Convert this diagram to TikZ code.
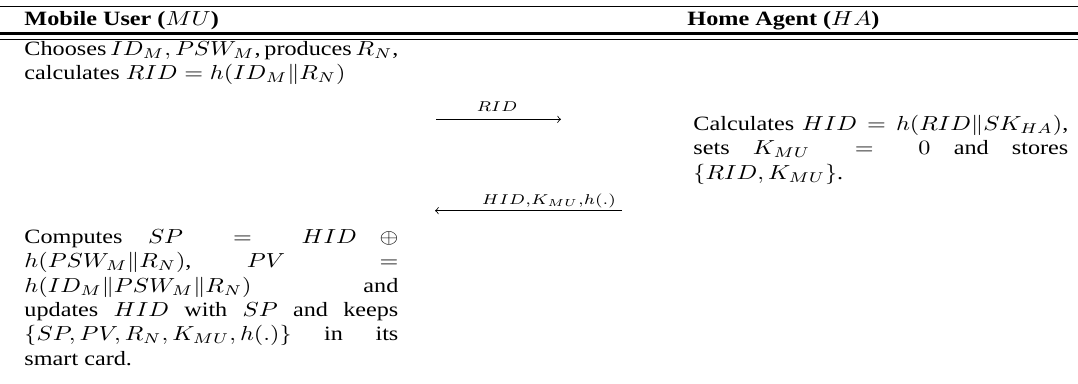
\documentclass[tikz,border=0pt]{standalone}
\usepackage{fontspec}
\setmainfont{Liberation Serif}
\tikzset{
  rulex/.style={line width=0.7pt},
  wide/.style={xscale=1.19, transform shape},
  para/.style={wide, anchor=base west, inner sep=0pt, align=justify,
    font=\fontsize{10}{12}\selectfont},
  head/.style={wide, anchor=base west, inner sep=0pt, font=\fontsize{10}{12}\selectfont\bfseries},
  msg/.style={line width=0.4pt},
  lab/.style={wide, anchor=base, inner sep=0pt, font=\fontsize{10}{12}\selectfont}
}
\begin{document}
\begin{tikzpicture}[x=0.492pt,y=-0.492pt]
\useasboundingbox (0,0) rectangle (1078,384);
% rules
\coordinate (r1a) at (0,6.7);   \coordinate (r1b) at (1078,6.7);
\coordinate (r2a) at (0,33.5);  \coordinate (r2b) at (1078,33.5);
\coordinate (r3a) at (0,39.5);  \coordinate (r3b) at (1078,39.5);
\draw[rulex] (r1a) -- (r1b);
\draw[rulex, line width=1pt] (r2a) -- (r2b);
\draw[rulex] (r3a) -- (r3b);
% headers
\node[head] (hmu) at (24,26) {Mobile User ($MU$)};
\node[head] (hha) at (687,26) {Home Agent ($HA$)};
% left column
\node[para, text width=154.6pt] (p1) at (24,55.5)
  {\hbox to\linewidth{Chooses\hss\ $ID_M, PSW_M$,\hss\ produces\hss\ $R_N$,}\par calculates $RID = h(ID_M\|R_N)$};
\node[para, text width=154.6pt] (p3) at (24,243.3)
  {Computes $SP = HID \oplus\penalty-10000 h(PSW_M\|R_N)$, $PV =\penalty-10000 h(ID_M\|PSW_M\|R_N)$ and\linebreak updates $HID$ with $SP$ and keeps\linebreak $\{SP, PV, R_N, K_{MU}, h(.)\}$ in its\linebreak smart card.};
% right column
\node[para, text width=155pt] (p2) at (693,130.5)
  {Calculates $HID = h(RID\|SK_{HA})$,\linebreak sets $K_{MU} = 0$ and stores\linebreak $\{RID, K_{MU}\}$.};
% messages
\coordinate (m1s) at (436,119.3); \coordinate (m1e) at (561,119.3);
\draw[msg,->] (m1s) -- (m1e);
\node[lab] (l1) at (497,111.7) {$\scriptstyle RID$};
\coordinate (m2s) at (622,210.7); \coordinate (m2e) at (435,210.7);
\draw[msg,->] (m2s) -- (m2e);
\node[lab] (l2) at (549,204.5) {$\scriptstyle HID,K_{MU},h(.)$};
\end{tikzpicture}
\end{document}
